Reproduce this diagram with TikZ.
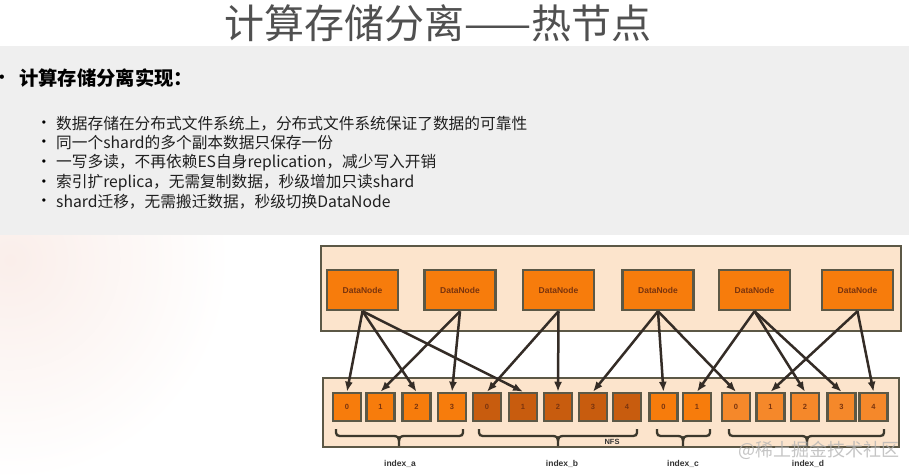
\documentclass[tikz,border=0pt]{standalone}
\usepackage{fontspec}
\setmainfont{Liberation Sans}
\newfontfamily\cjk{Noto Sans CJK SC}
\usetikzlibrary{arrows.meta}
\definecolor{bandgray}{RGB}{239,239,239}
\definecolor{titlegray}{RGB}{80,80,80}
\definecolor{peach}{RGB}{252,228,204}
\definecolor{bord}{RGB}{92,88,70}
\definecolor{orng}{RGB}{247,124,12}
\definecolor{orngdark}{RGB}{200,92,14}
\definecolor{ornglight}{RGB}{245,136,42}
\definecolor{boxtext}{RGB}{122,52,14}
\definecolor{arrowc}{RGB}{52,44,38}
\definecolor{bracec}{RGB}{60,56,44}
\definecolor{pinkish}{RGB}{250,238,234}
\tikzset{
  outerbox/.style={draw=bord, line width=2.8pt, fill=peach, inner sep=0pt},
  dnbox/.style={draw=bord, line width=2.5pt, fill=orng, minimum width=71pt, minimum height=40pt, inner sep=0pt,
    font=\bfseries\fontsize{8.5}{10}\selectfont, text=boxtext},
  shard/.style={draw=bord, line width=2.5pt, minimum width=28pt, minimum height=28pt, inner sep=0pt,
    font=\bfseries\fontsize{7.5}{9}\selectfont, text=boxtext},
  sa/.style={shard, fill=orng},
  sb/.style={shard, fill=orngdark},
  sd/.style={shard, fill=ornglight},
  arr/.style={draw=arrowc, line width=2.5pt, -{Latex[length=10pt,width=8pt]}},
  brc/.style={draw=bracec, line width=2.3pt},
  idx/.style={font=\bfseries\fontsize{8.5}{10}\selectfont, text=black!80},
  bul/.style={inner sep=0pt, font=\fontsize{12}{14}\selectfont},
  itm/.style={anchor=west, inner sep=0pt, font=\cjk\fontsize{15.7}{17}\selectfont, text=black!88},
}
\begin{document}
\begin{tikzpicture}[x=1pt,y=-1pt]
\useasboundingbox (0,0) rectangle (915,474);
\fill[white] (0,0) rectangle (915,474);
% faint backdrop at bottom left
\begin{scope}
  \clip (0,235) rectangle (330,474);
  \shade[inner color=pinkish, outer color=white] (10,260) circle[radius=220];
\end{scope}
% gray band
\fill[bandgray] (0,46) rectangle (909,235);

% title
\node[font=\cjk\fontsize{40}{44}\selectfont, text=titlegray, inner sep=0pt] (title) at (438,23) {计算存储分离——热节点};

% header bullet
\node[bul, font=\fontsize{16}{18}\selectfont] (hb) at (2,79) {•};
\node[anchor=west, inner sep=0pt, font=\cjk\bfseries\fontsize{19.3}{21}\selectfont] (head) at (19,78) {计算存储分离实现：};

% sub bullets
\node[bul] (b1) at (44,124) {•};
\node[itm] (l1) at (56,124) {数据存储在分布式文件系统上，分布式文件系统保证了数据的可靠性};
\node[bul] (b2) at (44,143) {•};
\node[itm] (l2) at (56,143) {同一个shard的多个副本数据只保存一份};
\node[bul] (b3) at (44,163) {•};
\node[itm] (l3) at (56,163) {一写多读，不再依赖ES自身replication，减少写入开销};
\node[bul] (b4) at (44,183) {•};
\node[itm] (l4) at (56,183) {索引扩replica，无需复制数据，秒级增加只读shard};
\node[bul] (b5) at (44,202) {•};
\node[itm] (l5) at (56,202) {shard迁移，无需搬迁数据，秒级切换DataNode};

% outer boxes
\node[outerbox, minimum width=580pt, minimum height=85pt] (topbox) at (611,288.5) {};
\node[outerbox, minimum width=576pt, minimum height=69pt] (botbox) at (611,412.5) {};

% datanodes
\node[dnbox] (dn1) at (362.5,290) {DataNode};
\node[dnbox] (dn2) at (460,290) {DataNode};
\node[dnbox] (dn3) at (558.5,290) {DataNode};
\node[dnbox] (dn4) at (658,290) {DataNode};
\node[dnbox] (dn5) at (754.5,290) {DataNode};
\node[dnbox] (dn6) at (857.5,290) {DataNode};

% shards
\node[sa] (a0) at (347,407) {0};
\node[sa] (a1) at (380.5,407) {1};
\node[sa] (a2) at (416.5,407) {2};
\node[sa] (a3) at (452,407) {3};
\node[sb] (bb0) at (487,407) {0};
\node[sb] (bb1) at (523,407) {1};
\node[sb] (bb2) at (558,407) {2};
\node[sb] (bb3) at (593,407) {3};
\node[sb] (bb4) at (627,407) {4};
\node[sa] (c0) at (663.5,407) {0};
\node[sa] (c1) at (697,407) {1};
\node[sd] (d0) at (736,407) {0};
\node[sd] (d1) at (770.5,407) {1};
\node[sd] (d2) at (805,407) {2};
\node[sd] (d3) at (841.5,407) {3};
\node[sd] (d4) at (873.5,407) {4};

% arrows
\draw[arr] (dn1.south) -- (a0.north);
\draw[arr] (dn1.south) -- (a2.north);
\draw[arr] (dn1.south) -- (bb1.north);
\draw[arr] (dn2.south) -- (a1.north);
\draw[arr] (dn2.south) -- (a3.north);
\draw[arr] (dn3.south) -- (bb0.north);
\draw[arr] (dn3.south) -- (bb2.north);
\draw[arr] (dn4.south) -- (bb3.north);
\draw[arr] (dn4.south) -- (c0.north);
\draw[arr] (dn4.south) -- (d0.north);
\draw[arr] (dn5.south) -- (c1.north);
\draw[arr] (dn5.south) -- (d2.north);
\draw[arr] (dn5.south) -- (d3.north);
\draw[arr] (dn6.south) -- (d1.north);
\draw[arr] (dn6.south) -- (d4.north);

% braces
\draw[brc] (336,429) .. controls (336,436) .. (344,436) -- (391,436) .. controls (399,436) .. (399,446) .. controls (399,436) .. (407,436) -- (455,436) .. controls (463,436) .. (463,429);
\draw[brc] (479,429) .. controls (479,436) .. (487,436) -- (550,436) .. controls (558,436) .. (558,446) .. controls (558,436) .. (566,436) -- (629,436) .. controls (637,436) .. (637,429);
\draw[brc] (657,429) .. controls (657,436) .. (665,436) -- (675,436) .. controls (683,436) .. (683,446) .. controls (683,436) .. (691,436) -- (702,436) .. controls (710,436) .. (710,429);
\draw[brc] (729,429) .. controls (729,436) .. (737,436) -- (799,436) .. controls (807,436) .. (807,446) .. controls (807,436) .. (815,436) -- (876,436) .. controls (884,436) .. (884,429);

% labels
\node[idx, font=\bfseries\fontsize{7.5}{9}\selectfont] (nfs) at (612,442) {NFS};
\node[idx] (ia) at (400,464) {index\_a};
\node[idx] (ib) at (562,464) {index\_b};
\node[idx] (ic) at (683,464) {index\_c};
\node[idx] (id) at (808,464) {index\_d};

% watermark
\node[font=\cjk\fontsize{18}{20}\selectfont, text=gray!60, opacity=0.75, inner sep=0pt] (wm) at (819,450) {@稀土掘金技术社区};
\end{tikzpicture}
\end{document}
